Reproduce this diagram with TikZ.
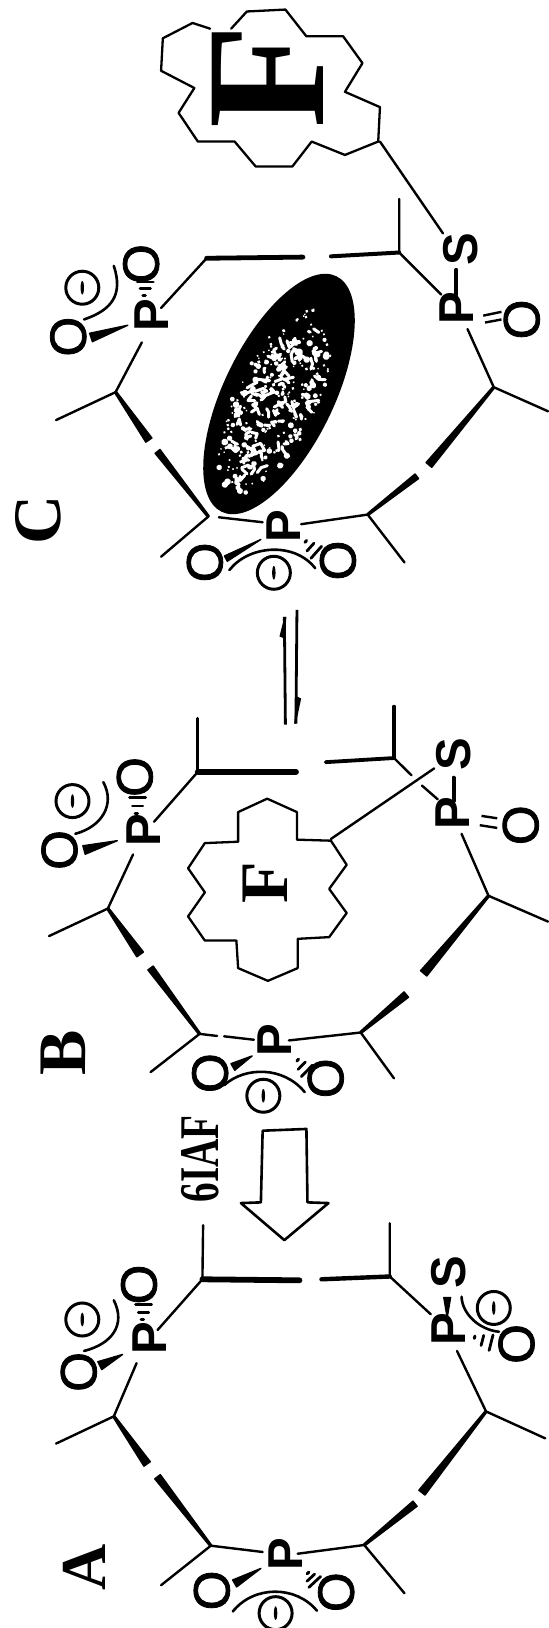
\documentclass[tikz,border=0pt]{standalone}
\usepackage{fontspec}
\setmainfont{Liberation Serif}
\newfontfamily\atomfont{Liberation Sans}
\newfontfamily\ofont{Liberation Sans}[FakeBold=1.6]
\usetikzlibrary{calc}
\tikzset{
  thinbond/.style={line width=1.2pt,line cap=round},
  ringline/.style={line width=1.15pt,line join=round,line cap=round},
  atom/.style={font=\atomfont\bfseries\fontsize{24.5}{24}\selectfont,rotate=90,inner sep=0pt},
  oatom/.style={font=\ofont\fontsize{25.5}{26}\selectfont,rotate=90,inner sep=0pt},
  minusc/.style={circle,draw,line width=1.5pt,minimum size=16.5pt,inner sep=0pt},
  chargearc/.style={line width=1.3pt,line cap=round},
  seriflabel/.style={font=\bfseries\fontsize{34}{34}\selectfont,rotate=90,inner sep=0pt},
  hashline/.style={line cap=round},
}
\newcommand{\mn}{\tikz[baseline=-.5ex]\fill (0,0) ellipse [x radius=.85pt,y radius=3.4pt];}
% wedge: narrow at #1, wide at #2, half-width #3
\newcommand{\tb}[3]{\filldraw[line width=.7pt,line join=round] (#1) -- ($(#2)!#3!90:(#1)$) -- ($(#2)!#3!-90:(#1)$) -- cycle;}
% tapered ring bond: half-width .5pt at #1, #3 at #2
\newcommand{\tbb}[3]{\filldraw[line width=.8pt,line join=round] ($(#1)!.45pt!90:(#2)$) -- ($(#1)!.45pt!-90:(#2)$) -- ($(#2)!#3!90:(#1)$) -- ($(#2)!#3!-90:(#1)$) -- cycle;}
% hash: three short dashes between #1 and #2
\newcommand{\hsh}[2]{%
  \draw[hashline,line width=1.5pt] ($(#1)!.08!(#2)$) -- ($(#1)!.08!(#2)!1.2pt!90:(#2)$);
  \draw[hashline,line width=1.4pt] ($(#1)!.5!(#2)!2.6pt!90:(#2)$) -- ($(#1)!.5!(#2)!2.6pt!-90:(#2)$);
  \draw[hashline,line width=1.4pt] ($(#1)!.95!(#2)!4pt!90:(#2)$) -- ($(#1)!.95!(#2)!4pt!-90:(#2)$);}
\begin{document}
\begin{tikzpicture}[x=0.5pt,y=-0.5pt]
\useasboundingbox (0,0) rectangle (549,1628);
\fill[white] (0,0) rectangle (549,1628);

% ================ C ================
\begin{scope}[x=0.1751pt,y=-0.1913pt]
\foreach \n/\p in {a/{460,805},b/{590,675},c/{865,672},d/{945,670},e/{1140,660},f/{1140,520},g/{1260,770},
  h/{1335,860},i/{1410,1012},j/{1565,1075},k/{1225,1215},l/{1190,1245},m/{1050,1345},n/{860,1370},o/{1155,1470},
  q/{750,1365},r/{625,1352},s/{595,1350},t/{460,1455},u/{450,1180},v/{425,1150},w/{330,1025},x/{160,1098},y/{405,895}}
  {\coordinate (c\n) at (\p);}
\draw[thinbond] (ca) -- (cb) (ce) -- (cf) (ce) -- (cg) (ch) -- (ci) (ci) -- (cj) (cm) -- (cn) (cm) -- (co) (cq) -- (cr) (cs) -- (ct) (cw) -- (cx) (cw) -- (cy);
\draw[line width=2.4pt,line cap=round] (cb) -- (cc);
\draw[line width=2pt,line cap=round] (cd) -- (ce);
\tbb{ci}{ck}{1.8pt}
\tbb{cm}{cl}{1.4pt}
\tbb{cs}{cu}{1.5pt}
\tbb{cw}{cv}{1.8pt}
\node[atom] (cP1) at (432,825) {P};
\node[oatom] (cO1) at (403,690) {O};
\node[oatom] (cO2) at (195,880) {O};
\coordinate (cw1a) at (365,850); \coordinate (cw1b) at (260,882);
\tb{cw1a}{cw1b}{2.2pt}
\coordinate (ch1a) at (415,775); \coordinate (ch1b) at (415,735);
\hsh{ch1a}{ch1b}
\draw[chargearc] (325,695) .. controls (352,770) and (320,810) .. (240,835);
\node[minusc] (cM1) at (235,752) {\mn};
\node[atom] (cP2) at (1305,805) {P};
\node[atom] (cS) at (1315,650) {S};
\node[oatom] (cO3) at (1490,835) {O};
\draw[line width=1.9pt,line cap=round] (1303,705) -- (1303,770);
\draw[line width=1.2pt] (1380,825) -- (1432,815) (1385,843) -- (1432,835);
\node[atom] (cP3) at (810,1375) {P};
\node[oatom] (cO4) at (585,1470) {O};
\node[oatom] (cO5) at (965,1465) {O};
\coordinate (cw3a) at (745,1410); \coordinate (cw3b) at (645,1460);
\tb{cw3a}{cw3b}{1.5pt}
\coordinate (ch3a) at (868,1415); \coordinate (ch3b) at (905,1445);
\hsh{ch3a}{ch3b}
\draw[chargearc] (655,1490) .. controls (710,1425) and (840,1415) .. (900,1485);
\node[minusc] (cM3) at (782,1497) {\mn};
% cofactor ring
\draw[ringline] (600,75) -- (550,60) -- (465,100) -- (460,185) -- (555,230) -- (510,295) -- (565,370) -- (670,370) -- (730,435) -- (835,435) -- (890,370) -- (985,405) -- (1080,370) -- (1085,280) -- (985,240) -- (1035,165) -- (980,95) -- (875,95) -- (815,25) -- (705,30) -- (660,75);
\coordinate (cq1) at (1085,370); \coordinate (cq2) at (1265,610);
\draw[thinbond] (cq1) -- (cq2);
\node[font=\bfseries\fontsize{85}{85}\selectfont,rotate=90,inner sep=0pt] (cF) at (765,200) {F};
\node[seriflabel] (cC) at (110,1360) {C};
\end{scope}

% ellipse with speckles
\begin{scope}[shift={(279,394)},rotate=64]
\fill (0,0) ellipse [x radius=131,y radius=55];
\pgfmathsetseed{4711}
\foreach \i in {1,...,240}{
  \pgfmathsetmacro{\rr}{sqrt(rnd)*0.9}
  \pgfmathsetmacro{\aa}{rnd*360}
  \pgfmathsetmacro{\sz}{0.45+rnd*rnd*1.5}
  \fill[white] ({\rr*112*cos(\aa)-8},{\rr*45*sin(\aa)}) circle [radius=\sz pt];
}
\foreach \i in {1,...,90}{
  \pgfmathsetmacro{\rr}{sqrt(rnd)*0.78}
  \pgfmathsetmacro{\aa}{rnd*360}
  \pgfmathsetmacro{\dx}{rnd*14-7}
  \pgfmathsetmacro{\dy}{rnd*14-7}
  \pgfmathsetmacro{\ex}{rnd*12-6}
  \pgfmathsetmacro{\ey}{rnd*12-6}
  \draw[white,line width=1.5pt,line cap=round,line join=round] ({\rr*108*cos(\aa)-8},{\rr*43*sin(\aa)}) -- ++(\dx,\dy) -- ++(\ex,\ey);
}
\end{scope}

% ================ B ================
\begin{scope}[yshift=-280pt,x=0.1751pt,y=-0.1722pt]
% equilibrium arrows
\coordinate (e1a) at (815,478); \coordinate (e1b) at (812,165);
\coordinate (e2a) at (848,145); \coordinate (e2b) at (845,475);
\draw[line width=1.4pt] (e1a) -- (e1b);
\draw[line width=1.4pt] (e2a) -- (e2b);
\fill (e1b) -- (818,165) -- (812,228) -- (798,222) -- cycle;
\fill (e2b) -- (840,475) -- (846,395) -- (860,402) -- cycle;
\foreach \n/\p in {a/{440,760},b/{565,615},c/{845,615},d/{930,587},e/{1125,575},f/{1125,425},g/{1175,625},g2/{1205,655},g3/{1250,695},
  h/{1318,795},i/{1395,975},j/{1565,1050},k/{1210,1200},l/{1160,1262},m/{1030,1372},n/{825,1395},o/{1125,1505},
  q/{725,1393},r/{640,1383},r2/{620,1382},s/{570,1376},t/{430,1487},u/{430,1185},v/{400,1145},w/{308,1012},x/{140,1092},y/{380,855},z/{565,460}}
  {\coordinate (b\n) at (\p);}
\draw[thinbond] (ba) -- (bb) (be) -- (bg) (bg2) -- (bg3) (bh) -- (bi) (bi) -- (bj) (bm) -- (bn) (bm) -- (bo) (bq) -- (br) (br2) -- (bs) (bs) -- (bt) (bw) -- (bx) (bw) -- (by);
\draw[line width=1.6pt,line cap=round] (bz) -- (bb) (bf) -- (be);
\draw[line width=3pt,line cap=round] (bb) -- (bc);
\draw[line width=1.9pt,line cap=round] (bd) -- (be);
\tbb{bi}{bk}{2pt}
\tbb{bm}{bl}{1.7pt}
\tbb{bs}{bu}{1.6pt}
\tbb{bw}{bv}{2pt}
\node[atom] (bP1) at (410,785) {P};
\node[oatom] (bO1) at (385,630) {O};
\node[oatom] (bO2) at (170,842) {O};
\coordinate (bw1a) at (335,815); \coordinate (bw1b) at (240,842);
\tb{bw1a}{bw1b}{2.2pt}
\coordinate (bh1a) at (393,740); \coordinate (bh1b) at (393,688);
\hsh{bh1a}{bh1b}
\draw[chargearc] (295,645) .. controls (330,710) and (290,775) .. (215,795);
\node[minusc] (bM1) at (207,700) {\mn};
\node[atom] (bP2) at (1293,735) {P};
\node[atom] (bS) at (1295,565) {S};
\node[oatom] (bO3) at (1487,770) {O};
\draw[line width=2pt,line cap=round] (1295,632) -- (1295,700);
\draw[line width=1.2pt] (1375,743) -- (1420,750) (1370,770) -- (1420,778);
\node[atom] (bP3) at (785,1395) {P};
\node[oatom] (bO4) at (600,1490) {O};
\node[oatom] (bO5) at (930,1505) {O};
\coordinate (bw3a) at (720,1440); \coordinate (bw3b) at (665,1472);
\tb{bw3a}{bw3b}{1.9pt}
\coordinate (bh3a) at (845,1452); \coordinate (bh3b) at (878,1485);
\hsh{bh3a}{bh3b}
\draw[chargearc] (640,1525) .. controls (700,1470) and (810,1470) .. (870,1545);
% cofactor ring
\draw[ringline] (945,815) -- (990,885) -- (940,955) -- (990,1025) -- (940,1095) -- (850,1100) -- (850,1185) -- (765,1222) -- (680,1185) -- (675,1105) -- (585,1105) -- (537,1035) -- (585,965) -- (537,895) -- (585,822) -- (680,818) -- (680,732) -- (763,693) -- (848,732) -- (848,812) -- cycle;
\coordinate (bq1) at (945,810); \coordinate (bq2) at (1240,605);
\draw[thinbond] (bq1) -- (bq2);
\node[font=\bfseries\fontsize{34}{34}\selectfont,rotate=90,inner sep=0pt] (bF) at (757,938) {F};
\node[seriflabel] (bB) at (180,1430) {B};
\end{scope}

% ================ A ================
\begin{scope}[yshift=-540pt,x=0.1751pt,y=-0.1748pt]
\node[minusc] (bM3) at (752,45) {\mn};
\node[font=\bfseries\fontsize{28}{28}\selectfont,rotate=90,inner sep=0pt] (lab) at (572,225) {\scalebox{0.7}[1]{6IAF}};
\draw[line width=1.3pt,line join=round] (750,145) -- (875,140) -- (878,350) -- (938,352) -- (812,458) -- (688,352) -- (745,350) -- cycle;
\foreach \n/\p in {a/{450,715},b/{578,570},c/{855,573},d/{918,570},e/{1113,562},f/{1113,410},g/{1230,670},z/{580,415},
  h/{1305,775},i/{1388,948},j/{1557,1025},k/{1205,1180},l/{1185,1212},m/{1040,1330},n/{850,1355},o/{1155,1468},
  q/{750,1350},s/{602,1332},t/{460,1445},u/{450,1135},v/{420,1098},w/{325,962},x/{160,1040},y/{390,810}}
  {\coordinate (a\n) at (\p);}
\draw[thinbond] (aa) -- (ab) (ae) -- (af) (ae) -- (ag) (az) -- (ab) (ah) -- (ai) (ai) -- (aj) (am) -- (an) (am) -- (ao) (aq) -- (as) (as) -- (at) (aw) -- (ax) (aw) -- (ay);
\draw[line width=2.9pt,line cap=round] (ab) -- (ac);
\draw[line width=2.2pt,line cap=round] (ad) -- (ae);
\tbb{ai}{ak}{1.9pt}
\tbb{am}{al}{1.6pt}
\tbb{as}{au}{1.7pt}
\tbb{aw}{av}{1.9pt}
\node[atom] (aP1) at (427,738) {P};
\node[oatom] (aO1) at (397,585) {O};
\node[oatom] (aO2) at (225,835) {O};
\coordinate (aw1a) at (350,785); \coordinate (aw1b) at (285,817);
\tb{aw1a}{aw1b}{2.2pt}
\coordinate (ah1a) at (410,690); \coordinate (ah1b) at (410,640);
\hsh{ah1a}{ah1b}
\draw[chargearc] (325,630) .. controls (360,700) and (320,755) .. (240,775);
\node[minusc] (aM1) at (235,685) {\mn};
\node[atom] (aP2) at (1280,712) {P};
\node[atom] (aS) at (1280,550) {S};
\node[oatom] (aO3) at (1475,755) {O};
\coordinate (aw2a) at (1277,680); \coordinate (aw2b) at (1277,622);
\tb{aw2a}{aw2b}{1.7pt}
\coordinate (ah2a) at (1350,738); \coordinate (ah2b) at (1405,752);
\hsh{ah2a}{ah2b}
\draw[chargearc] (1318,620) .. controls (1320,670) and (1370,715) .. (1425,720);
\node[minusc] (aM2) at (1410,652) {\mn};
\node[atom] (aP3) at (815,1357) {P};
\node[oatom] (aO4) at (605,1460) {O};
\node[oatom] (aO5) at (960,1465) {O};
\coordinate (aw3a) at (745,1397); \coordinate (aw3b) at (670,1440);
\tb{aw3a}{aw3b}{2pt}
\coordinate (ah3a) at (875,1410); \coordinate (ah3b) at (900,1437);
\hsh{ah3a}{ah3b}
\draw[chargearc] (665,1520) .. controls (725,1445) and (845,1445) .. (905,1518);
\node[minusc] (aM3) at (787,1525) {\mn};
\node[seriflabel,font=\bfseries\fontsize{32}{32}\selectfont] (aA) at (240,1395) {A};
\end{scope}
\end{tikzpicture}
\end{document}
